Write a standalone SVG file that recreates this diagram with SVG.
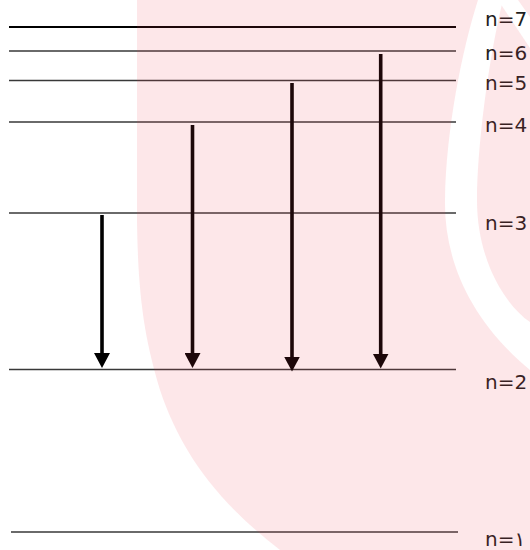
<svg xmlns="http://www.w3.org/2000/svg" width="530" height="550" viewBox="0 0 530 550">
  <style>
    .level { stroke: #383838; stroke-width: 1.3; fill: none; }
    .level.top { stroke: #000; stroke-width: 2; }
    .label { font-family: "DejaVu Sans", "Noto Sans", sans-serif; font-size: 20px; fill: #1e1e1e; }
    .arrow { stroke: #000; stroke-width: 3.6; fill: none; marker-end: url(#head); }
  </style>
  <defs>
    <marker id="head" viewBox="0 0 15 16" refX="1" refY="8" markerWidth="15" markerHeight="16" markerUnits="userSpaceOnUse" orient="auto">
      <path d="M0,0 L15,8 L0,16 Z" fill="#000"/>
    </marker>
    <mask id="tint-cut" maskUnits="userSpaceOnUse" x="0" y="0" width="530" height="550">
      <rect x="0" y="0" width="530" height="550" fill="#fff"/>
      <!-- open ring on the right side -->
      <path d="M478,0 C462,50 446,130 445,200 C444,260 470,320 530,370 L530,322 C505,305 477,260 477,200 C477,150 488,60 503,0 Z" fill="#000"/>
      <path d="M498,0 L518,0 L530,17 L530,48 Z" fill="#000"/>
    </mask>
  </defs>
  <rect x="0" y="0" width="530" height="550" fill="#fff"/>

  <!-- energy levels -->
  <g id="levels">
    <g id="level-n7">
      <line class="level top" x1="9" y1="27" x2="456" y2="27"/>
      <text class="label" x="485" y="26">n=7</text>
    </g>
    <g id="level-n6">
      <line class="level" x1="9" y1="51" x2="456" y2="51"/>
      <text class="label" x="485" y="59.5">n=6</text>
    </g>
    <g id="level-n5">
      <line class="level" x1="9" y1="80.5" x2="456" y2="80.5"/>
      <text class="label" x="485" y="89.5">n=5</text>
    </g>
    <g id="level-n4">
      <line class="level" x1="9" y1="122" x2="456" y2="122"/>
      <text class="label" x="485" y="131.5">n=4</text>
    </g>
    <g id="level-n3">
      <line class="level" x1="9" y1="213" x2="456" y2="213"/>
      <text class="label" x="485" y="230">n=3</text>
    </g>
    <g id="level-n2">
      <line class="level" x1="9" y1="369.5" x2="456" y2="369.5"/>
      <text class="label" x="485" y="388.5">n=2</text>
    </g>
    <g id="level-n1">
      <line class="level" x1="11" y1="532" x2="458" y2="532"/>
      <text class="label" x="485" y="546">n=۱</text>
    </g>
  </g>

  <!-- transitions down to n=2 -->
  <g id="connectors">
    <line class="arrow" x1="102" y1="215" x2="102" y2="354"/>
    <line class="arrow" x1="192.5" y1="125" x2="192.5" y2="354"/>
    <line class="arrow" x1="292" y1="83" x2="292" y2="357.5"/>
    <line class="arrow" x1="380.7" y1="54" x2="380.7" y2="354.5"/>
  </g>

  <!-- pale red tint laid over the right part of the sheet -->
  <g id="tint">
    <path d="M137,0 L137,220 C138,300 145,340 160,390 C180,450 215,500 280,550 L530,550 L530,0 Z" fill="#f03a4a" fill-opacity="0.12" mask="url(#tint-cut)"/>
  </g>
</svg>
